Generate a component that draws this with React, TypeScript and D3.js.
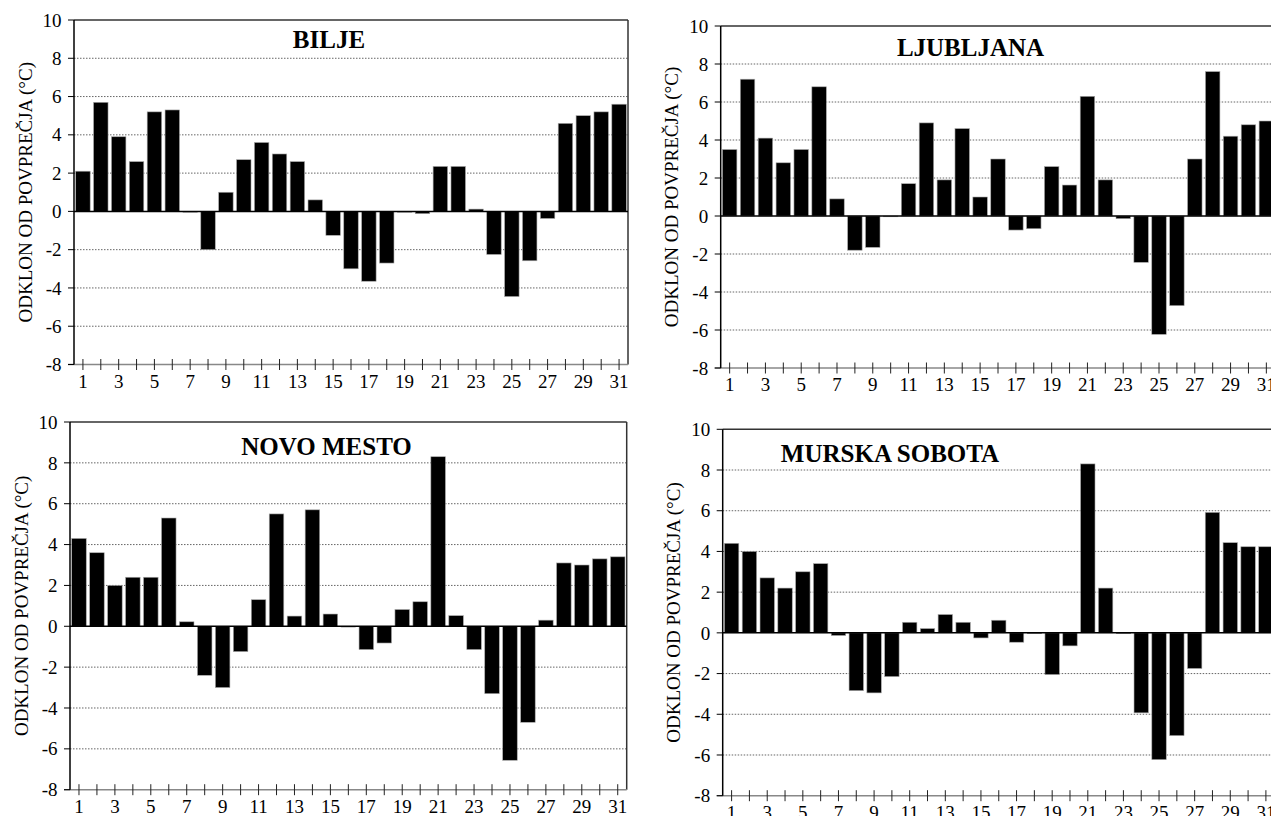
import React from "react";
import * as d3 from "d3";

const days = [1,2,3,4,5,6,7,8,9,10,11,12,13,14,15,16,17,18,19,20,21,22,23,24,25,26,27,28,29,30,31];
const xTickLabels = [1,3,5,7,9,11,13,15,17,19,21,23,25,27,29,31];
const yTicks = [-8,-6,-4,-2,0,2,4,6,8,10];
const yLabel = "ODKLON OD POVPREČJA (°C)";

const biljeValues = [2.1,5.7,3.9,2.6,5.2,5.3,-0.03,-2.0,1.0,2.7,3.6,3.0,2.6,0.6,-1.25,-3.0,-3.65,-2.7,-0.03,-0.12,2.35,2.35,0.12,-2.25,-4.45,-2.58,-0.37,4.6,5.0,5.2,5.6];
const ljubljanaValues = [3.5,7.2,4.1,2.8,3.5,6.8,0.9,-1.8,-1.65,-0.03,1.7,4.9,1.9,4.6,1.0,3.0,-0.74,-0.67,2.6,1.63,6.3,1.9,-0.14,-2.44,-6.23,-4.72,3.0,7.6,4.2,4.8,5.0];
const novoMestoValues = [4.3,3.6,2.0,2.4,2.4,5.3,0.22,-2.4,-3.0,-1.24,1.3,5.5,0.5,5.7,0.6,-0.03,-1.14,-0.82,0.82,1.2,8.3,0.52,-1.14,-3.3,-6.56,-4.7,0.3,3.1,3.0,3.3,3.4];
const murskaSobotaValues = [4.4,4.0,2.7,2.2,3.0,3.4,-0.13,-2.84,-2.95,-2.15,0.52,0.21,0.9,0.52,-0.25,0.62,-0.46,-0.03,-2.05,-0.64,8.3,2.2,-0.03,-3.93,-6.23,-5.05,-1.75,5.92,4.43,4.23,4.23];

const stations = ["BILJE", "LJUBLJANA", "NOVO MESTO", "MURSKA SOBOTA"];
const seriesList = [biljeValues, ljubljanaValues, novoMestoValues, murskaSobotaValues];

// layout (pixels)
const layouts = [
  { left: 74, right: 628, top: 20, bottom: 364.5, titleX: 329, titleY: 48 },
  { left: 720.7, right: 1275.3, top: 26, bottom: 368, titleX: 970.5, titleY: 56 },
  { left: 70, right: 626.7, top: 422, bottom: 789.7, titleX: 326.5, titleY: 455 },
  { left: 722.7, right: 1274.8, top: 429.3, bottom: 795.7, titleX: 890, titleY: 462 },
];

const FONT = "'Liberation Serif', 'Times New Roman', serif";

function Panel({ title, values, L }: { title: string; values: number[]; L: any }) {
  const x = d3.scaleBand<number>().domain(days).range([L.left, L.right]).paddingInner(0.19).paddingOuter(0.095);
  const y = d3.scaleLinear().domain([-8, 10]).range([L.bottom, L.top]);
  const cx = (d: number) => (x(d) as number) + x.bandwidth() / 2;
  const yMid = (L.top + L.bottom) / 2;
  return (
    <g>
      {/* gridlines */}
      {yTicks.filter((t) => t !== -8 && t !== 10 && t !== 0).map((t) => (
        <line key={"g" + t} x1={L.left} x2={L.right} y1={y(t)} y2={y(t)} stroke="#666" strokeWidth={1} strokeDasharray="1.5,1.5" />
      ))}
      {/* frame top and right */}
      <line x1={L.left} x2={L.right} y1={y(10)} y2={y(10)} stroke="#333" strokeWidth={1.5} />
      <line x1={L.right} x2={L.right} y1={y(10)} y2={y(-8)} stroke="#333" strokeWidth={1.5} />
      {/* bars */}
      {values.map((v, i) => (
        <rect key={"b" + i} x={x(days[i])} width={x.bandwidth()} y={y(Math.max(0, v))} height={Math.max(0.8, Math.abs(y(v) - y(0)))} fill="#000" stroke="#aaa" strokeWidth={0.6} />
      ))}
      {/* zero line */}
      <line x1={L.left} x2={L.right} y1={y(0)} y2={y(0)} stroke="#000" strokeWidth={1.5} />
      {/* bottom axis */}
      <line x1={L.left - 6} x2={L.right} y1={y(-8)} y2={y(-8)} stroke="#888" strokeWidth={1.5} />
      {days.map((d) => (
        <line key={"xt" + d} x1={cx(d)} x2={cx(d)} y1={y(-8) - 5.5} y2={y(-8) + 5.5} stroke="#222" strokeWidth={1} />
      ))}
      {xTickLabels.map((d) => (
        <text key={"xl" + d} x={cx(d)} y={y(-8) + 23} textAnchor="middle" fontFamily={FONT} fontSize={19} fill="#000">{d}</text>
      ))}
      {/* y axis */}
      <line x1={L.left} x2={L.left} y1={y(10)} y2={y(-8)} stroke="#000" strokeWidth={1.5} />
      {yTicks.map((t) => (
        <g key={"yt" + t}>
          <line x1={L.left - 6} x2={L.left} y1={y(t)} y2={y(t)} stroke="#000" strokeWidth={1} />
          <text x={L.left - 12.5} y={y(t)} dy="0.35em" textAnchor="end" fontFamily={FONT} fontSize={19} fill="#000">{t}</text>
        </g>
      ))}
      <text transform={`translate(${L.left - 49},${yMid}) rotate(-90)`} textAnchor="middle" dy="0.35em" fontFamily={FONT} fontSize={19} fill="#000">{yLabel}</text>
      <text x={L.titleX} y={L.titleY} textAnchor="middle" fontFamily={FONT} fontWeight="bold" fontSize={25} fill="#000">{title}</text>
    </g>
  );
}

export default function App() {
  return (
    <div style={{ position: "absolute", left: 0, top: 0, width: 1271, height: 816, overflow: "hidden", background: "#fff" }}>
      <svg width={1271} height={816} style={{ display: "block" }}>
        <rect x={0} y={0} width={1271} height={816} fill="#fff" />
        {stations.map((s, i) => (
          <Panel key={s} title={s} values={seriesList[i]} L={layouts[i]} />
        ))}
      </svg>
    </div>
  );
}
